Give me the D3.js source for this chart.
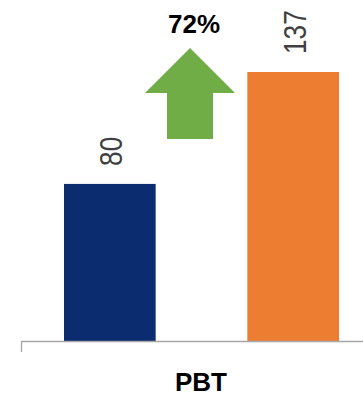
<!DOCTYPE html>
<html>
<head>
<meta charset="utf-8">
<script src="https://cdn.jsdelivr.net/npm/d3@7"></script>
<style>
  html, body { margin: 0; padding: 0; background: #fff; }
  svg { display: block; }
</style>
</head>
<body>
<svg id="chart" width="363" height="399"></svg>
<script>
// Profit before tax, two periods, with growth marker
const categories = ["PBT"];
const seriesNames = ["Prior", "Current"];
const seriesValues = [80, 137];
const seriesColors = ["#0B2D6F", "#ED7D31"];
const growthLabel = "72%";

const width = 363, height = 399;
const baseY = 341;

const svg = d3.select("#chart");

const y = d3.scaleLinear().domain([0, 137]).range([baseY, 72]);

const x0 = d3.scaleBand().domain(categories).range([21, 381]).padding(0);
const x1 = d3.scaleBand().domain(seriesNames)
  .range([43, 318]).paddingInner(0.5).paddingOuter(0);

const g = svg.append("g");

const cat = g.selectAll("g.cat").data(categories).join("g")
  .attr("class", "cat")
  .attr("transform", d => `translate(${x0(d)},0)`);

const bars = seriesNames.map((s, i) => ({ s, v: seriesValues[i], c: seriesColors[i] }));

cat.selectAll("rect").data(bars).join("rect")
  .attr("x", d => x1(d.s))
  .attr("y", d => y(d.v))
  .attr("width", x1.bandwidth())
  .attr("height", d => y(0) - y(d.v))
  .attr("fill", d => d.c);

// Rotated value labels above each bar (condensed along the reading direction)
cat.selectAll("text.val").data(bars).join("text")
  .attr("class", "val")
  .attr("transform", d => `translate(${x1(d.s) + x1.bandwidth() / 2 + 12.5},${y(d.v) - 18}) rotate(-90) scale(0.82,1)`)
  .attr("text-anchor", "start")
  .attr("font-family", "'Liberation Sans', Arial, sans-serif")
  .attr("font-size", 32)
  .attr("fill", "#404040")
  .text(d => d.v);

// Category axis
const axis = svg.append("g").attr("transform", `translate(0,${baseY})`)
  .call(d3.axisBottom(x0).tickSize(0).tickFormat(""));
axis.select(".domain").remove();
axis.append("path")
  .attr("d", `M21.5,11V0.5H${width}`)
  .attr("fill", "none")
  .attr("stroke", "#A6A6A6")
  .attr("stroke-width", 1.3);

svg.selectAll("text.cat").data(categories).join("text")
  .attr("class", "cat")
  .attr("x", d => x0(d) + x0.bandwidth() / 2)
  .attr("y", 391)
  .attr("text-anchor", "middle")
  .attr("font-family", "'Liberation Sans', Arial, sans-serif")
  .attr("font-weight", "bold")
  .attr("font-size", 26)
  .attr("fill", "#000")
  .text(d => d);

// Growth arrow between the bars
const ax = 190;
const arrow = d3.path();
arrow.moveTo(ax, 48);
arrow.lineTo(ax + 45, 93);
arrow.lineTo(ax + 23, 93);
arrow.lineTo(ax + 23, 139);
arrow.lineTo(ax - 23, 139);
arrow.lineTo(ax - 23, 93);
arrow.lineTo(ax - 45, 93);
arrow.closePath();
svg.append("path").attr("d", arrow.toString()).attr("fill", "#70AD47");

svg.append("text")
  .attr("x", 194)
  .attr("y", 33)
  .attr("text-anchor", "middle")
  .attr("font-family", "'Liberation Sans', Arial, sans-serif")
  .attr("font-weight", "bold")
  .attr("font-size", 26)
  .attr("fill", "#000")
  .text(growthLabel);
</script>
</body>
</html>
